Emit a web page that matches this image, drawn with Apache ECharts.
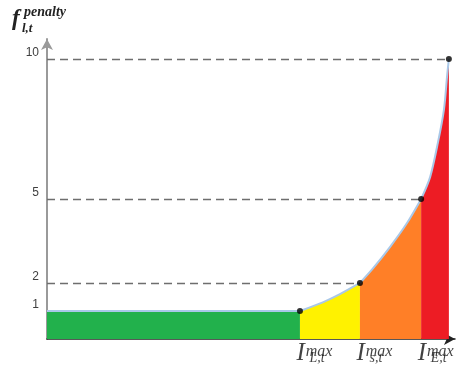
<!DOCTYPE html>
<html>
<head>
<meta charset="utf-8">
<script src="https://cdn.jsdelivr.net/npm/echarts@6/dist/echarts.min.js"></script>
<style>
  html, body { margin: 0; padding: 0; background: #fff; }
  #main { width: 459px; height: 365px; }
</style>
</head>
<body>
<div id="main"></div>
<script>
// thresholds on the x axis (arbitrary units 0..100) and their penalty values
var limitX = [62, 76.7, 91.7, 98.5];
var limitY = [1, 2, 5, 10];
var limitNames = ['L,t', 's,t', 'E,t'];
var yTicks = [1, 2, 5, 10];

// curve pieces
var greenX = [0, 62];
var greenY = [1, 1];
var yellowX = [62, 67.6, 71.8, 76.7];
var yellowY = [1, 1.31, 1.6, 2];
var orangeX = [76.7, 79.9, 84.1, 88.2, 91.7];
var orangeY = [2, 2.52, 3.29, 4.13, 5];
var redX = [91.7, 93.9, 95.8, 97.3, 98.1, 98.5];
var redY = [5, 5.78, 7.0, 8.2, 9.45, 10];

function zip(a, b) { return a.map(function (v, i) { return [v, b[i]]; }); }

var serif = 'Liberation Serif';
var curveColor = '#a9c8e8';

function piece(name, xs, ys, fill) {
    return {
        name: name,
        type: 'line',
        data: zip(xs, ys),
        smooth: 0.3,
        symbol: 'none',
        silent: true,
        lineStyle: { color: curveColor, width: 2 },
        areaStyle: { color: fill, opacity: 1 },
        z: 2
    };
}

// dashed guide lines from the y axis to the points at 2, 5, 10
var guides = [];
for (var i = 1; i < limitX.length; i++) {
    guides.push([{ coord: [0, limitY[i]] }, { coord: [limitX[i], limitY[i]] }]);
}

function labelSeries(name, label) {
    return {
        name: name,
        type: 'scatter',
        data: limitNames.map(function (n, i) { return { value: [limitX[i], 0], name: n }; }),
        symbolSize: 1,
        itemStyle: { color: 'rgba(0,0,0,0)' },
        silent: true,
        clip: false,
        z: 6,
        label: label
    };
}

var chart = echarts.init(document.getElementById('main'));
chart.setOption({
    animation: false,
    grid: { left: 47, top: 39, right: 4, bottom: 26 },
    xAxis: {
        type: 'value', min: 0, max: 100,
        splitLine: { show: false },
        axisTick: { show: false },
        axisLabel: { show: false },
        axisLine: {
            show: true, symbol: ['none', 'arrow'], symbolSize: [9, 11],
            lineStyle: { color: '#222', width: 1.5 }
        }
    },
    yAxis: {
        type: 'value', min: 0, max: 10.71,
        splitLine: { show: false },
        axisTick: { show: false },
        axisLabel: {
            customValues: yTicks,
            margin: 8,
            verticalAlign: 'bottom',
            fontFamily: 'Liberation Sans', fontSize: 12, color: '#404040'
        },
        axisLine: {
            show: true, symbol: ['none', 'arrow'], symbolSize: [9, 11],
            lineStyle: { color: '#9a9a9a', width: 2 }
        }
    },
    series: [
        piece('green', greenX, greenY, '#22b14c'),
        piece('yellow', yellowX, yellowY, '#fff200'),
        piece('orange', orangeX, orangeY, '#ff7f27'),
        piece('red', redX, redY, '#ed1c24'),
        {
            name: 'points',
            type: 'scatter',
            data: zip(limitX, limitY),
            symbolSize: 6,
            itemStyle: { color: '#000' },
            silent: true,
            z: 5,
            markLine: {
                silent: true,
                symbol: 'none',
                label: { show: false },
                lineStyle: { color: '#6e6e6e', width: 1.3, type: [8, 5] },
                data: guides
            }
        },
        labelSeries('xlabels', {
            show: true,
            position: [-3, 2],
            align: 'left',
            formatter: '{i|I}{sup|max}',
            rich: {
                i: { fontFamily: serif, fontStyle: 'italic', fontSize: 25, lineHeight: 25, color: '#111' },
                sup: { fontFamily: serif, fontStyle: 'italic', fontSize: 16, lineHeight: 15, verticalAlign: 'top', padding: [3, 0, 0, 1], color: '#111' }
            }
        }),
        labelSeries('xsubs', {
            show: true,
            position: [10, 13],
            align: 'left',
            formatter: '{b}',
            fontFamily: serif, fontStyle: 'italic', fontSize: 14, lineHeight: 14, color: '#111'
        })
    ],
    graphic: [
        { type: 'text', left: 12, top: 8, style: { text: 'f', font: 'italic bold 23px "Liberation Serif"', fill: '#222' } },
        { type: 'text', left: 24, top: 5, style: { text: 'penalty', font: 'italic bold 14px "Liberation Serif"', fill: '#222' } },
        { type: 'text', left: 22, top: 22, style: { text: 'l,t', font: 'italic bold 13px "Liberation Serif"', fill: '#222' } }
    ]
});
</script>
</body>
</html>
